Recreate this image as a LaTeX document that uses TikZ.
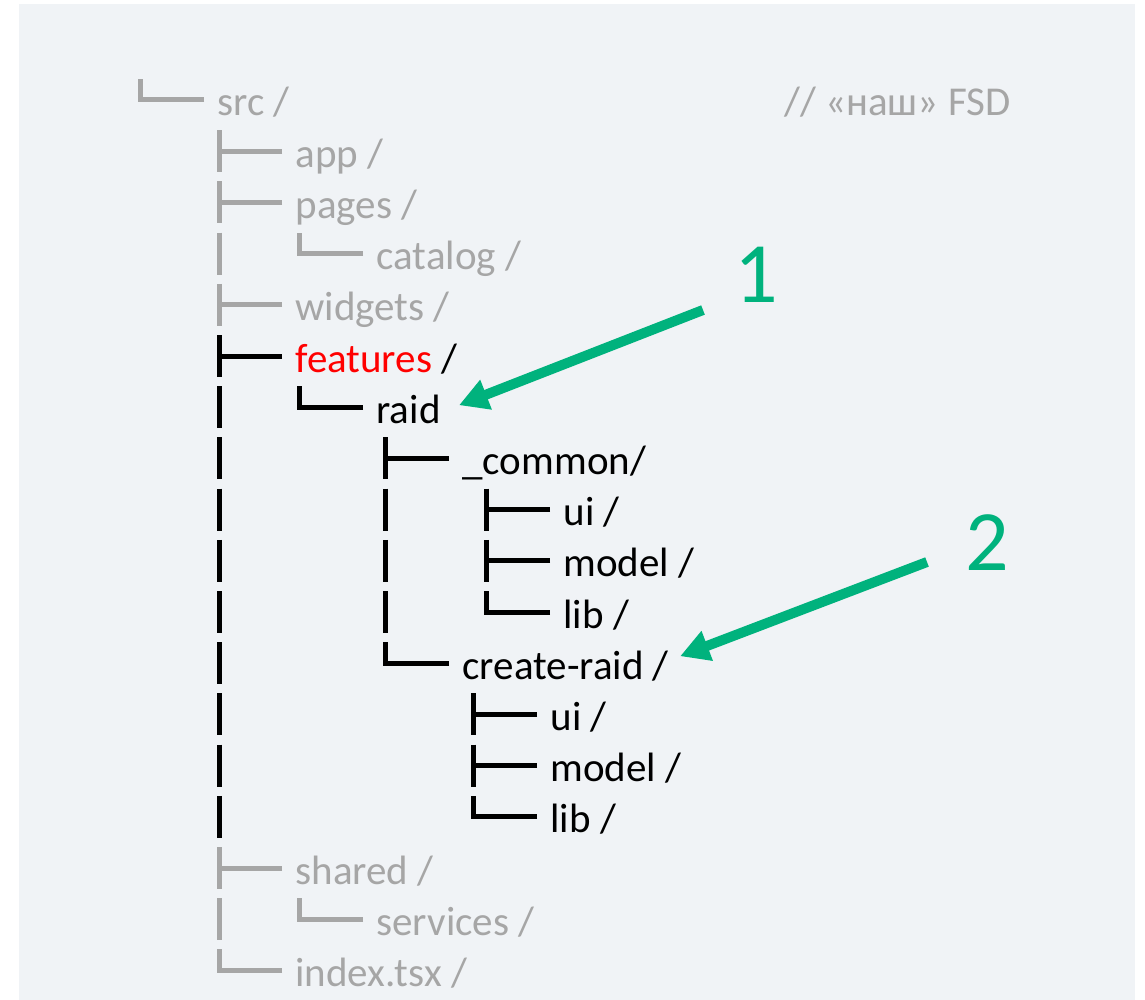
\documentclass[tikz,border=0pt]{standalone}
\usepackage{fontspec}
\setmainfont{Carlito}
\usetikzlibrary{arrows.meta}
\definecolor{fond}{RGB}{240,243,246}
\definecolor{gris}{RGB}{166,166,166}
\definecolor{vert}{RGB}{0,178,125}
% tree glyphs: column x, node name
\newcommand{\branchT}[3][black]{\coordinate (tmp) at ([xshift=-11pt,yshift=16pt]#3.base west);
  \draw[#1] (tmp) -- (#2,0 |- tmp) ++(0,-21) -- ++(0,42);}
\newcommand{\branchL}[3][black]{\coordinate (tmp) at ([xshift=-11pt,yshift=16pt]#3.base west);
  \draw[#1] (tmp) -- (#2,0 |- tmp) -- ++(0,-21);}
\newcommand{\branchI}[3][black]{\coordinate (tmp) at ([xshift=-11pt,yshift=16pt]#3.base west);
  \draw[#1] (#2,0 |- tmp) ++(0,-21) -- ++(0,42);}

\begin{document}
\begin{tikzpicture}[x=1pt,y=-1pt,line width=5pt,
  nom/.style={anchor=base west,inner sep=0pt,font=\fontsize{41}{49}\selectfont},
  fleche/.style={vert,line width=10pt,-{Triangle[length=29pt,width=30pt]}}]
\useasboundingbox (0,0) rectangle (1145,1000);
\fill [fond] (19,4) rectangle (1135,1000);
% names
\node[nom,text=gris] (src) at (215,116) {src /};
\node[nom,text=gris] (note) at (782,116) {// «наш» FSD};
\node[nom,text=gris] (app) at (293,167.2) {app /};
\node[nom,text=gris] (pages) at (293,218.4) {pages /};
\node[nom,text=gris] (catalog) at (374,269.6) {catalog /};
\node[nom,text=gris] (widgets) at (293,320.8) {widgets /};
\node[nom] (features) at (293,372) {\textcolor{red}{features} /};
\node[nom] (raid) at (374,423.2) {raid};
\node[nom] (common) at (460,474.4) {\_common/};
\node[nom] (ui1) at (561,525.6) {ui /};
\node[nom] (model1) at (561,576.8) {model /};
\node[nom] (lib1) at (561,628) {lib /};
\node[nom] (crr) at (460,679.2) {create-raid /};
\node[nom] (ui2) at (548,730.4) {ui /};
\node[nom] (model2) at (548,781.6) {model /};
\node[nom] (lib2) at (548,832.8) {lib /};
\node[nom,text=gris] (shared) at (293,884) {shared /};
\node[nom,text=gris] (services) at (374,935.2) {services /};
\node[nom,text=gris] (index) at (293,986.4) {index.tsx /};
% branches
\branchL[gris]{140.5}{src}
\foreach \n in {app,pages,widgets,shared} {\branchT[gris]{219}{\n}}
\foreach \n in {catalog,services} {\branchI[gris]{219}{\n} \branchL[gris]{299.5}{\n}}
\branchL[gris]{219}{index}
\branchT{219}{features}
\foreach \n in {raid,common,ui1,model1,lib1,crr,ui2,model2,lib2} {\branchI{219}{\n}}
\branchL{299.5}{raid}
\branchT{385.5}{common}
\foreach \n in {ui1,model1,lib1} {\branchI{385.5}{\n}}
\branchT{486.5}{ui1}
\branchT{486.5}{model1}
\branchL{486.5}{lib1}
\branchL{385.5}{crr}
\branchT{473.5}{ui2}
\branchT{473.5}{model2}
\branchL{473.5}{lib2}
% markers
\node[text=vert,inner sep=0pt,font=\fontsize{86}{100}\selectfont] (one) at (756,275) {1};
\node[text=vert,inner sep=0pt,font=\fontsize{86}{100}\selectfont] (two) at (987,543) {2};
\coordinate (d1) at (703,310);
\coordinate (d2) at (927,562);
\draw [fleche] (d1) -- ([xshift=16pt,yshift=18pt]raid.base east);
\draw [fleche] (d2) -- ([xshift=9pt,yshift=23pt]crr.base east);
\end{tikzpicture}
\end{document}
